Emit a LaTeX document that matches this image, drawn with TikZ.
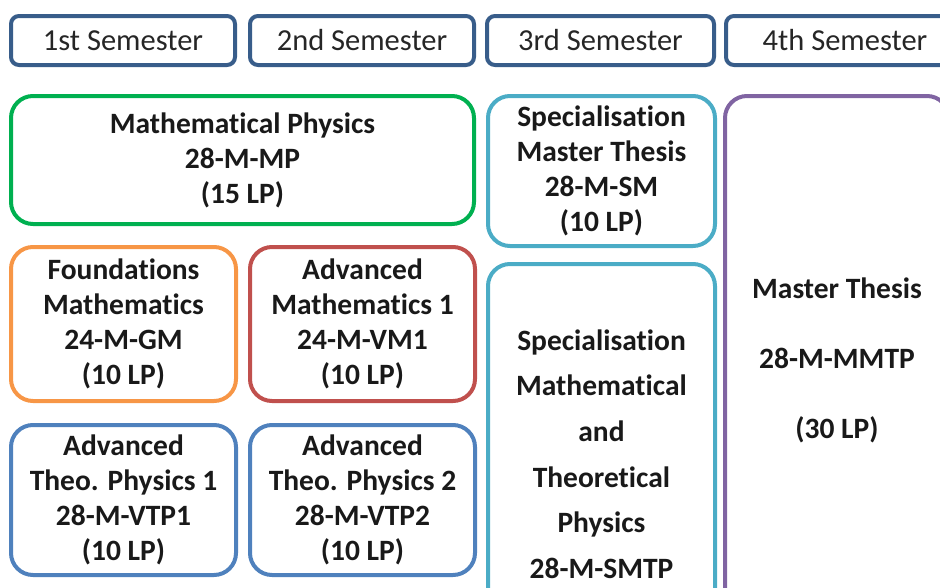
\documentclass[tikz,border=0pt]{standalone}
\usepackage{fontspec}
\setmainfont{Carlito}[Ligatures=NoCommon]
\usetikzlibrary{positioning}
\definecolor{semblue}{HTML}{385D8A}
\definecolor{mpgreen}{HTML}{00B050}
\definecolor{smcyan}{HTML}{4BACC6}
\definecolor{mtpurple}{HTML}{8064A2}
\definecolor{gmorange}{HTML}{F79646}
\definecolor{vmred}{HTML}{C0504D}
\definecolor{vtpblue}{HTML}{4F81BD}

\begin{document}
\begin{tikzpicture}[x=1pt, y=-1pt,
    sem/.style={draw=semblue, line width=4pt, rounded corners=8pt, minimum height=49pt,
        inner sep=0pt, text=black!85, font=\fontsize{30.5}{35}\selectfont},
    course/.style={draw=#1, line width=4pt, rounded corners=22pt, align=center,
        inner sep=0pt, text=black!90, font=\bfseries\fontsize{29.5}{35}\selectfont}]
    % 画面范围
    \useasboundingbox (0,0) rectangle (940,587);
    \clip (0,0) rectangle (940,587);

    % 定义坐标
    \coordinate (S1) at (123, 40.5);
    \coordinate (S2) at (362, 40.5);
    \coordinate (S3) at (600.5, 40.5);
    \coordinate (S4) at (845, 40.5);

    % 学期标题
    \node[sem, minimum width=224pt] (sem1) at (S1) {1st Semester};
    \node[sem, minimum width=224pt] (sem2) at (S2) {2nd Semester};
    \node[sem, minimum width=227pt] (sem3) at (S3) {3rd Semester};
    \node[sem, minimum width=238pt] (sem4) at (S4) {4th Semester};

    % 第一、二学期的模块
    \node[course=mpgreen, minimum width=463pt, minimum height=128pt] (mp) at (242.5, 160)
        {Mathematical Physics\\28-M-MP\\(15 LP)};
    \node[course=gmorange, minimum width=225pt, minimum height=154pt] (gm) at (123.5, 324)
        {Foundations\\Mathematics\\24-M-GM\\(10 LP)};
    \node[course=vmred, minimum width=225pt, minimum height=154pt] (vm1) at (362.5, 324)
        {Advanced\\Mathematics 1\\24-M-VM1\\(10 LP)};
    \node[course=vtpblue, minimum width=225pt, minimum height=150pt] (vtp1) at (123.5, 500)
        {Advanced\\Theo. Physics 1\\28-M-VTP1\\(10 LP)};
    \node[course=vtpblue, minimum width=225pt, minimum height=150pt] (vtp2) at (362.5, 500)
        {Advanced\\Theo. Physics 2\\28-M-VTP2\\(10 LP)};

    % 第三学期
    \node[course=smcyan, minimum width=227pt, minimum height=150pt] (sm) at (601.5, 171)
        {Specialisation\\Master Thesis\\28-M-SM\\(10 LP)};
    \node[course=smcyan, minimum width=227pt, minimum height=380pt,
        font=\bfseries\fontsize{29.5}{45.6}\selectfont] (smtp) at (601.5, 454)
        {Specialisation\\Mathematical\\and\\Theoretical\\Physics\\28-M-SMTP};

    % 第四学期
    \node[course=mtpurple, minimum width=224pt, minimum height=528pt,
        font=\bfseries\fontsize{29.5}{70}\selectfont] (mt) at (837, 360)
        {Master Thesis\\28-M-MMTP\\(30 LP)};
\end{tikzpicture}
\end{document}
